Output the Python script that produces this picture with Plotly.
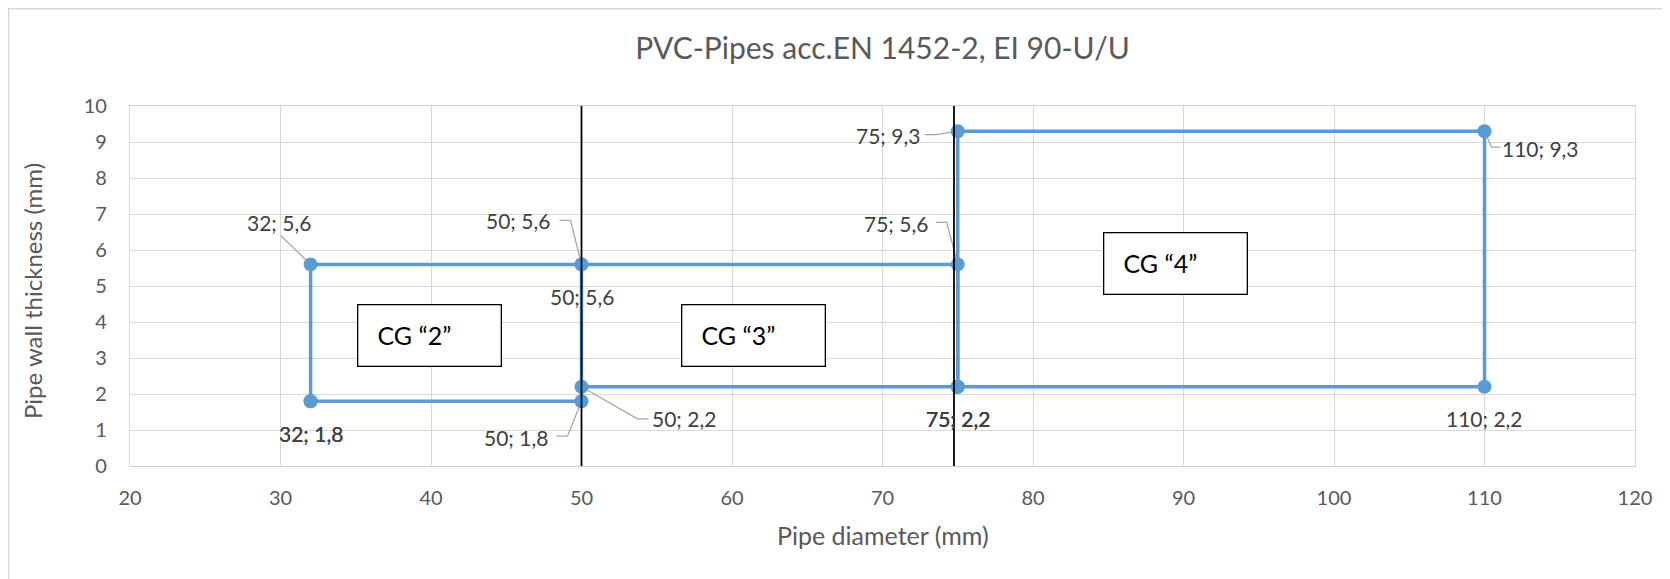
import plotly.graph_objects as go

# ---------------- data ----------------
CG2_X = [32, 32, 50, 50, 32]
CG2_Y = [1.8, 5.6, 5.6, 1.8, 1.8]
CG3_X = [50, 75, 75, 50]
CG3_Y = [2.2, 2.2, 5.6, 5.6]
CG4_X = [75, 110, 110, 75, 75]
CG4_Y = [2.2, 2.2, 9.3, 9.3, 2.2]
SEPARATOR_X = [50, 74.75]
X_TICKS = [20, 30, 40, 50, 60, 70, 80, 90, 100, 110, 120]
Y_TICKS = [0, 1, 2, 3, 4, 5, 6, 7, 8, 9, 10]
GROUP_LABELS = ["CG \u201c2\u201d", "CG \u201c3\u201d", "CG \u201c4\u201d"]

TITLE = "PVC-Pipes acc.EN 1452-2, EI 90-U/U"
X_TITLE = "Pipe diameter (mm)"
Y_TITLE = "Pipe wall thickness (mm)"

# ---------------- styling / placement ----------------
FONT = "Lato"
BLUE = "#5B9BD5"
GRID = "#D9D9D9"
TXT = "#595959"
LBL = "#404040"
LEADER = "#A6A6A6"

# page body has an 8px margin: figure is drawn 8px right/down
FIG_W, FIG_H = 1662, 571
M_L, M_R, M_T, M_B = 122, 35, 98, 113

BELOW = (0, 32, None)
# (dx, dy screen px offsets of label centre, leader path in screen px rel. to point)
LABEL_PLACEMENT = {
    "CG2": [BELOW,
            (-32, -41.5, [(-30, -29), (0, 0)]),
            (-64, -44, [(-22, -44), (-11, -44), (0, 0)]),
            (-66, 36, [(-25, 35), (-14, 35), (0, 0)]),
            BELOW],
    "CG3": [(102, 32, [(0, 0), (56, 32), (67, 32)]),
            BELOW,
            (-62, -40.5, [(-22, -42), (-11, -42), (0, 0)]),
            BELOW],
    "CG4": [BELOW,
            BELOW,
            (56, 17, [(0, 0), (7, 16), (16, 16)]),
            (-70, 4, [(-33, 3.5), (-21, 3.5), (0, 0)]),
            BELOW],
}
# text-box centres (data units) for group labels
BOX_POS = [(39.88, 3.62), (61.4, 3.62), (89.5, 5.62)]

SERIES = [("CG2", CG2_X, CG2_Y), ("CG3", CG3_X, CG3_Y), ("CG4", CG4_X, CG4_Y)]

fig = go.Figure()

for name, xs, ys in SERIES:
    fig.add_trace(go.Scatter(
        x=xs, y=ys, mode="lines+markers", name=name,
        line=dict(color=BLUE, width=3.5),
        marker=dict(color=BLUE, size=14),
        hoverinfo="skip", showlegend=False, cliponaxis=False))

# vertical separator lines
sx, sy = [], []
for v in SEPARATOR_X:
    sx += [v, v, None]
    sy += [Y_TICKS[0], Y_TICKS[-1], None]
fig.add_trace(go.Scatter(x=sx, y=sy, mode="lines",
                         line=dict(color="black", width=1.8),
                         hoverinfo="skip", showlegend=False))

annotations = []
shapes = []


def fmt(v):
    return f"{v:g}".replace(".", ",")


for name, xs, ys in SERIES:
    for i, (xv, yv) in enumerate(zip(xs, ys)):
        dx, dy, leader = LABEL_PLACEMENT[name][i]
        annotations.append(dict(
            x=xv, y=yv, xref="x", yref="y", text=f"{fmt(xv)}; {fmt(yv)}",
            showarrow=False, xshift=dx, yshift=-dy,
            xanchor="center", yanchor="middle",
            font=dict(family=FONT, size=21, color=LBL)))
        if leader:
            path = "M " + " L ".join(f"{px} {-py}" for px, py in leader)
            shapes.append(dict(
                type="path", path=path, xref="x", yref="y",
                xsizemode="pixel", ysizemode="pixel", xanchor=xv, yanchor=yv,
                line=dict(color=LEADER, width=1.3), layer="between"))

for text, (bx, by) in zip(GROUP_LABELS, BOX_POS):
    annotations.append(dict(
        x=bx, y=by, xref="x", yref="y",
        text="\u00a0\u00a0\u00a0" + text,
        showarrow=False, align="left", width=142, height=60,
        xanchor="center", yanchor="middle",
        bordercolor="black", borderwidth=1.3, borderpad=0, bgcolor="white",
        font=dict(family=FONT, size=25, color="black")))

# axis titles
annotations.append(dict(x=0.5, y=0, xref="paper", yref="paper", yshift=-69,
                        text=X_TITLE, showarrow=False, xanchor="center", yanchor="middle",
                        font=dict(family=FONT, size=25, color=TXT)))
annotations.append(dict(x=0, y=0.5, xref="paper", yref="paper", xshift=-98, yshift=-5,
                        text=Y_TITLE, textangle=-90, showarrow=False,
                        xanchor="center", yanchor="middle",
                        font=dict(family=FONT, size=24, color=TXT)))

plot_w = FIG_W - M_L - M_R
plot_h = FIG_H - M_T - M_B
# chart-area border (left and top edges visible)
shapes.append(dict(type="rect", xref="paper", yref="paper",
                   x0=(0.7 - M_L) / plot_w, x1=1.06,
                   y0=-0.5, y1=(plot_h + M_T - 0.7) / plot_h,
                   line=dict(color=GRID, width=1.5), fillcolor="rgba(0,0,0,0)", layer="below"))

fig.update_layout(
    width=FIG_W, height=FIG_H, autosize=False,
    margin=dict(l=M_L, r=M_R, t=M_T, b=M_B, autoexpand=False),
    paper_bgcolor="white", plot_bgcolor="white",
    title=dict(text=TITLE, x=0.5, xref="paper", y=1 - 40 / FIG_H, yref="container",
               xanchor="center", yanchor="middle", automargin=False,
               font=dict(family=FONT, size=30, color=TXT)),
    annotations=annotations, shapes=shapes,
    xaxis=dict(range=[X_TICKS[0], X_TICKS[-1]], tickvals=X_TICKS, showgrid=True, automargin=False,
               gridcolor=GRID, gridwidth=1.3, zeroline=False, showline=True, mirror=True,
               linecolor="#CFCFCF", linewidth=1.3, ticks="", ticklabelstandoff=14,
               tickfont=dict(family=FONT, size=20, color=TXT)),
    yaxis=dict(range=[Y_TICKS[0], Y_TICKS[-1]], tickvals=Y_TICKS, showgrid=True, automargin=False,
               gridcolor=GRID, gridwidth=1.3, zeroline=False, showline=True, mirror=True,
               linecolor="#D9D9D9", linewidth=1.3, ticks="", ticklabelstandoff=18,
               tickfont=dict(family=FONT, size=20, color=TXT)),
)

fig.write_html("out.html")
